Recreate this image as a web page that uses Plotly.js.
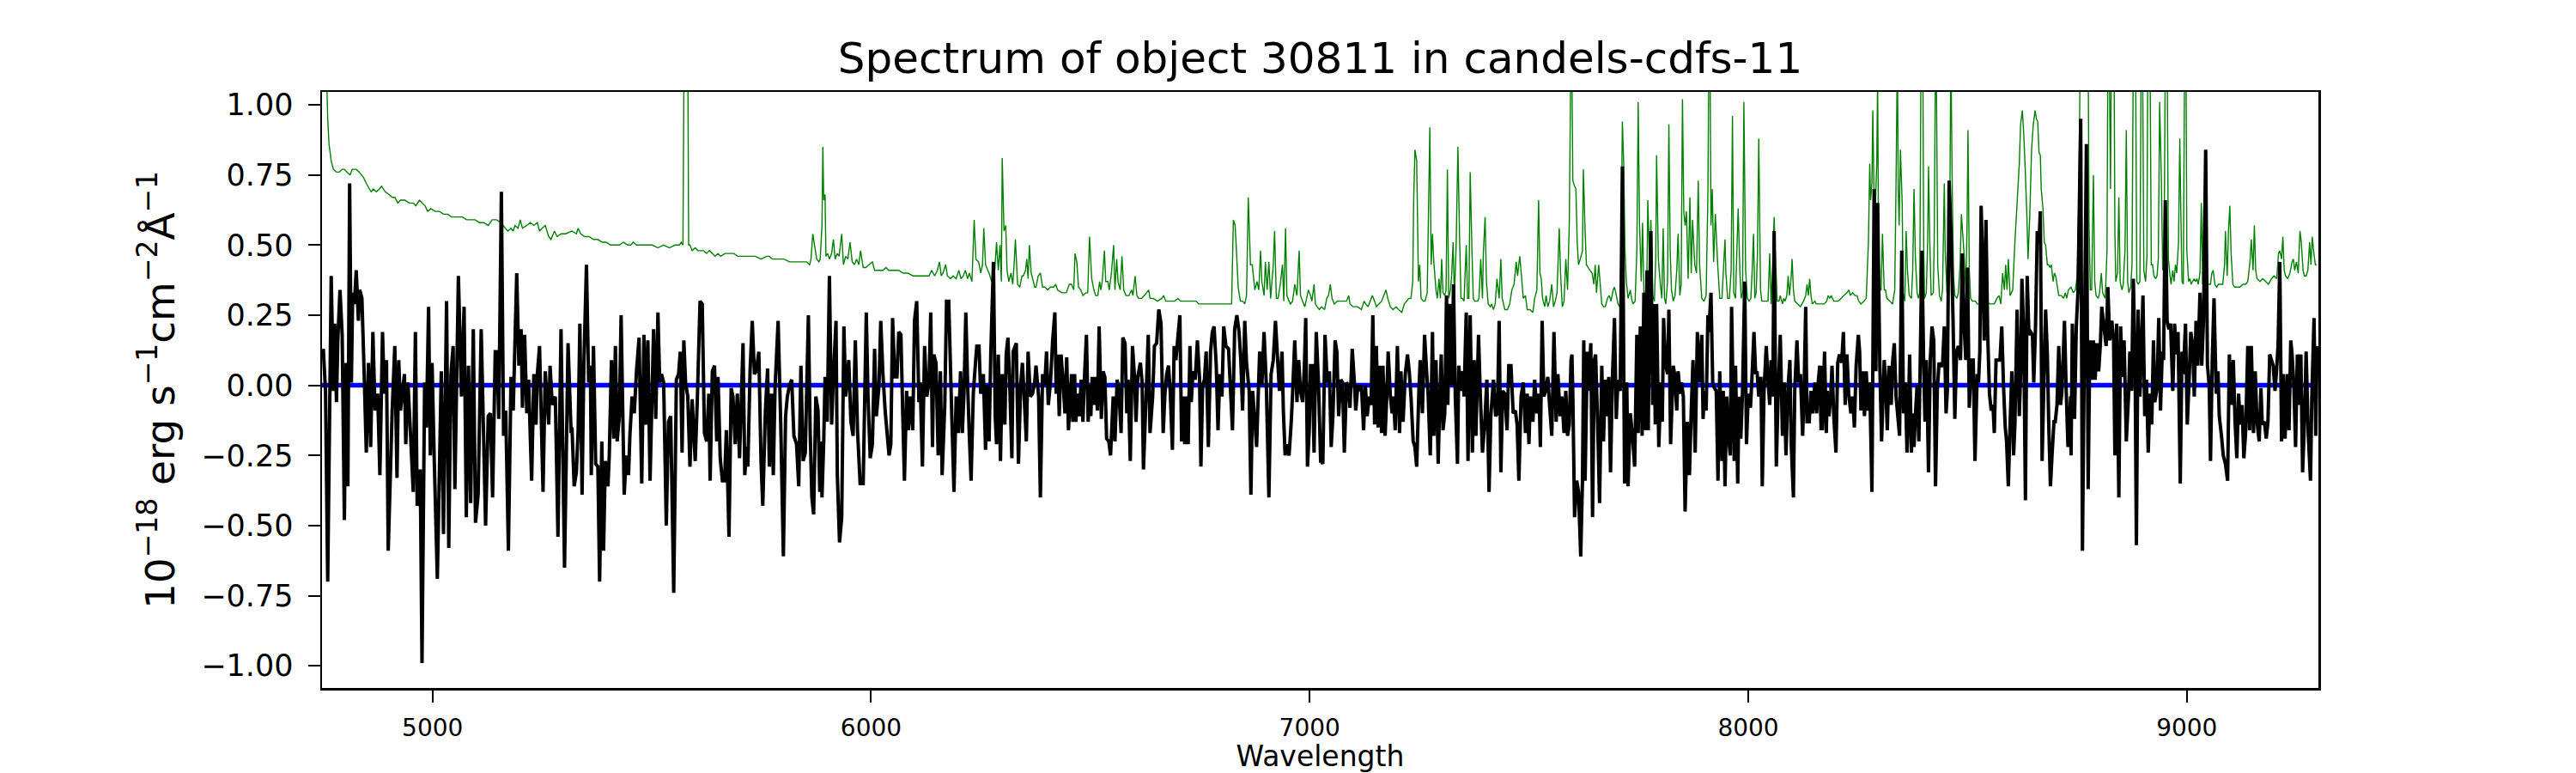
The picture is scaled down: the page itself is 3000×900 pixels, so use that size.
<!DOCTYPE html>
<html>
<head>
<meta charset="utf-8">
<script src="https://cdn.plot.ly/plotly-3.0.1.min.js"></script>
<style>html,body{margin:0;padding:0;background:#fff;}#chart{width:3000px;height:900px;}</style>
</head>
<body>
<div id="chart"></div>
<script>
// Observed spectrum (black), wavelength in Angstrom
const obsWave = [
4751,4756,4761,4769,4774,4777,4781,4784,4789,4794,4799,4803,4807,4811,4815,4818,4822,4826,4831,4834,4839,4844,4849,4854,4859,4864,4869,4875,4880,4886,4890,4895,4899,4908,4914,4919,4923,4927,4936,4939,4944,4950,4956,4961,4965,4972,4976,4982,4986,4991,4995,4999,5004,5011,5020,5025,5032,5037,5042,5047,5051,5059,5066,5072,5077,5082,5087,5093,5098,5104,5111,5121,5127,5132,5137,5143,5147,5151,5157,5162,5167,5173,5179,5184,5192,5197,5202,5205,5210,5215,5219,5226,5231,5236,5239,5244,5252,5257,5265,5268,5273,5280,5286,5293,5301,5309,5316,
5318,5323,5328,5332,5336,5341,5345,5351,5356,5360,5362,5367,5372,5377,5381,5386,5390,5394,5400,5403,5408,5413,5417,5421,5426,5430,5437,5442,5447,5450,5455,5460,5465,5471,5477,5482,5486,5491,5496,5504,5509,5514,5518,5522,5527,5533,5538,5543,5550,5556,5561,5565,5569,5573,5577,5582,5587,5592,5599,5604,5610,5615,5620,5625,5630,5633,5638,5643,5648,5651,5656,5661,5666,5670,5676,5681,5685,5690,5695,5700,5708,5712,5716,5719,5724,5729,5734,5738,5744,5749,5753,5759,5764,5768,5773,5777,5781,5788,5794,5800,5805,5809,5814,5819,5824,5830,5835,5840,5845,5850,5857,5861,5865,5869,5874,5879,5883,5887,
5888,5892,5895,5900,5905,5910,5914,5920,5923,5928,5933,5938,5942,5949,5954,5959,5964,5969,5975,5982,5989,5993,5998,6003,6008,6012,6018,6022,6027,6032,6037,6041,6045,6049,6054,6059,6063,6068,6072,6076,6081,6085,6089,6095,6099,6104,6109,6112,6117,6122,6127,6132,6136,6140,6143,6148,6153,6158,6162,6168,6172,6177,6184,6189,6194,6199,6204,6208,6212,6216,6220,6224,6228,6233,6238,6241,6246,6250,6256,6261,6264,6269,6273,6279,6283,6286,6290,6295,6299,6305,6308,6312,6316,6321,6324,6331,6336,6341,6345,6349,6354,6358,6363,6368,6373,6376,6382,6386,6391,6396,6400,6404,6409,6414,6419,6422,6425,6429,6433,6437,6442,6446,6450,6456,
6457,6460,6464,6467,6470,6475,6479,6483,6486,6491,6495,6498,6501,6504,6508,6512,6516,6520,6525,6529,6533,6537,6542,6546,6552,6556,6561,6565,6570,6574,6579,6583,6586,6591,6596,6601,6604,6608,6614,6618,6621,6627,6632,6636,6642,6646,6651,6656,6661,6666,6670,6674,6678,6682,6687,6691,6695,6700,6704,6708,6712,6715,6719,6723,6727,6730,6734,6739,6744,6749,6752,6756,6760,6764,6769,6774,6778,6782,6787,6791,6795,6800,6804,6809,6815,6819,6824,6829,6834,6839,6843,6847,6852,6856,6862,6866,6870,6875,6879,6883,6886,6891,6896,6901,6907,6912,6917,6922,6927,6931,6937,6940,6944,6948,6953,6958,6961,6966,6971,6975,6979,6984,6988,6991,6995,6999,7002,7006,7010,7015,7020,7025,
7027,7030,7035,7040,7045,7049,7053,7058,7062,7066,7071,7075,7079,7084,7088,7092,7097,7102,7105,7110,7114,7118,7123,7127,7131,7136,7140,7144,7148,7152,7156,7159,7164,7167,7172,7176,7179,7184,7188,7191,7195,7200,7205,7208,7213,7218,7223,7227,7231,7236,7240,7244,7249,7252,7257,7262,7267,7270,7275,7280,7283,7288,7293,7297,7300,7304,7308,7312,7315,7319,7324,7328,7332,7337,7340,7345,7349,7352,7357,7361,7366,7371,7375,7379,7385,7389,7394,7399,7404,7409,7413,7419,7424,7428,7432,7436,7440,7445,7450,7454,7459,7464,7469,7473,7477,7482,7487,7492,7496,7500,7503,7509,7513,7518,7523,7526,7530,7534,7538,7543,7547,7552,7557,7562,7566,7571,7575,7580,7584,7588,7592,7596,
7598,7600,7604,7609,7613,7618,7622,7625,7628,7633,7636,7641,7645,7649,7652,7657,7661,7666,7670,7674,7679,7682,7686,7690,7695,7699,7703,7708,7713,7718,7723,7726,7731,7736,7741,7746,7749,7754,7758,7762,7765,7769,7772,7775,7778,7782,7785,7788,7791,7796,7801,7804,7807,7811,7816,7819,7823,7829,7832,7837,7840,7845,7848,7852,7856,7861,7866,7870,7874,7879,7884,7889,7894,7897,7900,7904,7908,7910,7915,7919,7923,7927,7931,7935,7940,7943,7947,7951,7955,7959,7962,7968,7971,7976,7979,7983,7987,7992,7996,8000,8005,8008,8013,8017,8020,8024,8029,8032,8036,8041,8045,8049,8052,8056,8059,8064,8068,8073,8078,8082,8086,8091,8095,8098,8103,8106,8111,8115,8119,8124,8127,8131,8134,8139,8143,8147,8152,8156,8160,8163,8166,
8167,8169,8174,8178,8180,8184,8188,8191,8195,8200,8204,8208,8213,8217,8221,8225,8229,8234,8238,8242,8246,8251,8254,8257,8261,8265,8269,8273,8277,8282,8287,8291,8295,8300,8304,8310,8313,8317,8321,8326,8329,8333,8337,8341,8345,8350,8354,8358,8362,8365,8368,8372,8375,8378,8381,8385,8389,8392,8396,8400,8403,8406,8409,8411,8415,8419,8423,8427,8431,8435,8439,8443,8447,8451,8454,8458,8463,8467,8471,8475,8479,8484,8488,8492,8496,8500,8504,8509,8513,8517,8522,8525,8528,8531,8535,8538,8542,8546,8550,8554,8558,8561,8565,8569,8574,8578,8582,8586,8589,8593,8597,8601,8605,8608,8613,8618,8621,8624,8628,8632,8636,8640,8644,8648,8651,8655,8659,8663,8666,8670,8674,8678,8682,8685,8689,8693,8697,8700,8704,8708,8712,8715,8721,8725,8729,8732,8735,
8736,8739,8744,8748,8752,8758,8762,8767,8771,8775,8779,8783,8787,8791,8795,8799,8803,8806,8811,8816,8820,8824,8829,8833,8836,8840,8845,8849,8853,8857,8862,8867,8870,8874,8878,8882,8885,8889,8893,8897,8900,8904,8908,8912,8916,8920,8924,8927,8932,8936,8940,8944,8947,8951,8955,8959,8963,8968,8972,8976,8980,8985,8989,8992,8997,9001,9005,9009,9013,9017,9021,9025,9030,9034,9038,9043,9047,9051,9054,9058,9062,9067,9071,9074,9079,9083,9088,9093,9097,9101,9106,9110,9114,9118,9122,9126,9130,9134,9139,9143,9147,9152,9156,9160,9165,9169,9172,9177,9181,9185,9189,9193,9197,9201,9204,9208,9212,9216,9220,9224,9229,9233,9237,9240,9244,9248,9252,9256,9260,9264,9268,9272,9277,9282,9285,9290,9294,9297
];
// Observed flux, 1e-18 erg/s/cm2/A
const obsFlux = [
0.13,-0.02,-0.70,0.39,-0.02,0.22,-0.06,0.16,0.34,0.18,-0.48,0.08,-0.36,0.72,0.01,0.33,0.29,0.41,0.23,0.34,0.31,0.05,-0.24,0.08,-0.22,0.19,-0.09,-0.03,-0.32,0.19,-0.03,0.09,-0.59,-0.09,0.14,-0.33,0.09,-0.09,0.04,-0.21,0.01,-0.18,-0.38,0.19,-0.43,-0.30,-0.99,0.01,-0.15,0.28,-0.25,0.08,-0.27,-0.69,0.05,-0.53,0.30,-0.58,0.04,0.14,-0.37,0.39,-0.04,0.28,-0.47,0.07,-0.42,0.20,-0.49,-0.39,0.20,-0.50,-0.11,-0.10,-0.40,0.12,0.12,-0.12,0.69,-0.18,-0.09,-0.59,0.03,-0.09,0.40,0.07,0.20,-0.08,0.18,-0.10,0.02,-0.34,0.04,-0.14,0.04,0.14,-0.38,0.05,-0.14,0.07,-0.07,-0.04,-0.54,0.20,-0.65,0.15,-0.17,
-0.15,-0.36,-0.31,-0.16,0.22,-0.39,0.07,0.43,0.01,0.07,-0.32,0.14,-0.28,-0.29,-0.70,-0.20,-0.59,-0.27,-0.36,-0.25,0.09,-0.19,0.14,-0.20,-0.11,0.25,-0.39,-0.25,-0.32,-0.18,-0.04,-0.10,0.05,0.17,-0.35,0.18,-0.14,0.16,-0.34,0.20,-0.12,0.26,0.01,0.04,0.01,-0.50,-0.13,-0.11,-0.74,0.02,0.04,0.12,-0.24,0.16,0.01,-0.04,-0.29,-0.05,-0.27,-0.04,0.30,0.29,-0.17,-0.20,-0.03,-0.34,0.05,0.07,-0.20,0.03,-0.26,-0.34,-0.34,-0.16,-0.54,-0.01,-0.04,-0.21,-0.03,-0.26,0.15,-0.32,-0.22,-0.29,0.05,0.23,0.04,0.05,0.12,-0.27,-0.43,-0.09,0.06,-0.29,-0.03,-0.32,-0.01,0.23,-0.14,-0.61,-0.11,-0.04,0.00,0.02,-0.18,-0.21,-0.36,0.07,-0.27,-0.24,0.25,-0.16,-0.40,-0.46,-0.04,-0.09,-0.38,-0.20,
-0.40,-0.20,0.03,-0.13,0.39,-0.14,0.03,0.23,-0.32,-0.56,-0.47,0.21,-0.04,0.09,-0.13,-0.18,0.16,-0.16,-0.35,-0.35,0.26,-0.04,-0.26,-0.21,0.13,-0.11,0.00,0.23,0.04,-0.09,-0.18,-0.25,-0.21,0.24,0.03,0.03,0.19,0.18,-0.09,-0.34,-0.02,-0.16,-0.04,-0.16,0.23,0.30,-0.06,0.01,-0.29,0.14,-0.04,0.01,0.26,-0.22,0.11,0.08,-0.25,0.05,-0.32,-0.07,0.30,0.30,-0.11,-0.38,-0.04,-0.17,0.05,-0.17,-0.02,0.26,0.01,-0.18,-0.34,-0.03,0.08,0.14,0.14,-0.03,0.04,-0.23,0.00,-0.20,0.12,0.44,-0.11,-0.21,0.11,-0.27,0.04,-0.14,0.11,0.17,0.01,-0.26,0.12,0.15,-0.28,0.00,0.08,-0.04,-0.20,0.12,-0.04,-0.03,0.01,0.07,-0.04,-0.40,0.04,0.00,0.12,-0.07,0.01,0.16,0.26,-0.03,0.11,-0.11,0.11,0.03,-0.10,0.10,-0.16,0.01,
0.04,-0.13,0.04,-0.13,-0.03,-0.11,0.02,-0.13,0.01,0.18,-0.13,0.00,-0.11,0.03,-0.07,0.03,-0.09,0.21,-0.12,0.05,0.03,-0.19,-0.20,-0.25,-0.04,-0.20,0.02,-0.02,-0.17,0.17,0.15,-0.10,0.02,-0.27,0.14,0.02,-0.13,0.03,0.08,0.01,-0.30,-0.04,0.18,-0.17,-0.04,0.14,0.15,0.27,0.22,-0.17,-0.03,0.04,0.07,-0.02,-0.23,0.14,0.09,0.18,0.25,-0.20,-0.04,-0.21,-0.04,-0.21,0.14,-0.06,0.05,0.02,0.16,0.02,-0.29,0.00,0.02,0.12,-0.22,0.12,0.19,0.21,0.07,-0.16,0.04,-0.04,0.21,0.14,0.13,0.00,-0.16,0.20,0.25,0.19,0.09,-0.09,0.23,0.08,-0.02,-0.39,-0.02,-0.13,-0.22,-0.02,0.12,0.00,0.19,0.01,-0.40,0.04,0.09,0.23,0.09,-0.02,0.12,-0.09,-0.25,-0.21,-0.25,-0.13,-0.03,0.16,-0.06,0.09,-0.02,-0.06,0.07,0.24,-0.29,-0.16,0.07,0.07,-0.24,0.19,0.01,-0.27,
-0.27,-0.28,0.18,0.01,0.05,-0.22,-0.11,0.16,0.12,-0.11,0.02,0.01,-0.24,0.01,0.00,-0.08,0.13,0.01,-0.09,0.00,-0.02,0.00,-0.16,0.00,-0.11,-0.04,-0.07,0.25,-0.14,0.14,-0.15,0.07,-0.17,0.07,-0.18,-0.03,0.12,-0.04,-0.10,-0.04,-0.16,0.14,-0.17,0.05,-0.13,0.04,0.11,0.05,-0.04,-0.20,-0.22,-0.29,-0.02,0.09,-0.10,0.18,0.04,-0.03,-0.25,0.19,-0.18,0.09,-0.28,-0.03,0.11,-0.16,-0.10,0.32,-0.07,0.29,0.00,0.36,-0.04,-0.28,0.07,-0.02,0.05,-0.04,0.26,-0.27,0.25,-0.24,0.09,-0.18,0.18,-0.03,-0.24,-0.14,0.02,-0.38,-0.11,0.02,-0.11,-0.10,0.23,-0.31,-0.02,-0.03,-0.16,0.07,0.07,-0.10,-0.09,-0.14,-0.34,-0.04,0.01,-0.17,-0.03,-0.21,-0.04,-0.13,0.02,-0.10,-0.03,-0.22,0.23,-0.04,-0.02,0.03,-0.07,-0.18,0.19,-0.13,0.04,-0.11,-0.04,-0.17,-0.02,-0.18,-0.14,0.09,
0.11,-0.03,-0.47,-0.34,-0.38,-0.61,-0.34,0.16,-0.34,0.12,-0.02,0.15,-0.47,0.09,0.11,-0.16,-0.42,0.07,-0.20,0.02,-0.11,0.03,-0.31,0.01,0.24,-0.12,0.02,-0.02,0.78,-0.35,0.01,-0.36,-0.10,-0.18,-0.29,0.18,-0.17,0.21,-0.18,0.33,-0.16,0.41,-0.16,0.29,0.55,-0.07,0.29,-0.14,0.29,-0.22,0.01,-0.13,0.24,0.08,0.04,0.27,-0.21,0.07,0.04,-0.09,0.05,-0.03,0.01,-0.04,-0.45,-0.13,-0.32,-0.09,0.09,-0.24,0.19,0.01,0.18,-0.12,-0.02,-0.09,0.25,0.19,0.33,0.01,-0.01,-0.02,-0.34,0.05,-0.27,-0.02,-0.36,-0.04,-0.18,-0.25,0.28,-0.27,0.07,-0.35,-0.04,-0.19,-0.02,0.37,-0.21,-0.03,-0.08,0.01,0.19,0.04,0.05,-0.04,0.03,-0.36,-0.02,0.14,0.02,-0.07,0.09,-0.04,0.55,-0.29,-0.04,0.18,-0.18,0.01,-0.25,0.00,0.09,-0.21,-0.40,-0.02,0.16,0.01,0.04,-0.18,-0.04,0.28,-0.13,-0.13,-0.02,-0.10,0.01,-0.10,0.02,0.07,-0.16,
0.07,-0.16,0.12,-0.17,-0.02,-0.11,-0.04,0.07,-0.11,-0.24,0.08,0.11,0.08,0.19,-0.07,0.11,-0.03,-0.10,-0.04,-0.15,0.07,0.18,0.12,-0.09,0.05,-0.11,0.05,-0.09,0.01,-0.38,0.70,0.05,0.65,0.07,-0.20,0.09,0.02,-0.16,0.07,-0.07,0.08,0.15,-0.04,-0.11,-0.18,0.48,-0.10,0.01,-0.24,-0.11,0.11,-0.24,-0.10,-0.22,-0.11,0.00,-0.20,0.07,0.48,0.07,-0.13,0.09,-0.13,-0.31,0.09,0.21,0.16,-0.36,-0.02,0.08,0.07,0.07,0.21,-0.10,-0.02,0.73,0.51,0.23,-0.12,0.12,0.14,0.09,0.47,0.22,0.09,0.42,-0.08,0.09,0.09,-0.27,0.04,0.01,0.12,0.64,0.41,0.16,0.59,0.18,-0.03,-0.09,-0.07,-0.17,0.09,0.09,0.09,0.21,0.00,-0.15,-0.20,-0.36,-0.14,0.05,-0.25,-0.14,0.27,-0.11,0.04,0.38,0.19,-0.41,0.39,0.18,0.19,0.18,0.01,0.21,0.55,0.51,0.62,-0.27,0.00,0.27,0.11,-0.13,-0.36,-0.24,-0.13,-0.13,-0.07,0.14,-0.07,-0.03,0.23,-0.02,-0.22,-0.16,-0.04,
-0.25,0.22,-0.12,0.21,0.34,0.95,-0.59,0.23,0.86,-0.37,0.16,0.02,0.16,0.02,0.15,0.05,0.15,0.28,0.21,0.14,0.35,0.16,0.23,0.16,-0.25,0.22,-0.40,0.21,0.03,0.16,-0.20,-0.04,0.12,-0.02,0.38,0.09,-0.57,0.27,-0.04,0.15,0.32,-0.11,0.02,-0.24,-0.03,-0.14,0.16,-0.06,-0.01,0.24,-0.09,0.12,0.09,0.66,0.23,0.20,0.22,-0.02,0.22,0.11,0.19,-0.35,0.12,0.04,0.22,-0.14,0.01,0.19,0.15,-0.04,0.23,0.07,0.33,0.07,0.23,0.84,0.07,0.00,-0.27,0.09,0.31,-0.03,0.05,-0.11,-0.18,-0.25,-0.28,-0.34,0.11,-0.07,0.09,-0.13,-0.26,-0.03,-0.14,-0.07,-0.26,-0.17,0.14,-0.16,0.14,-0.17,0.05,-0.13,-0.20,-0.01,-0.14,-0.13,-0.19,-0.13,0.11,0.09,0.07,-0.02,0.04,0.14,0.44,-0.20,0.04,-0.19,0.04,-0.16,0.16,0.11,0.00,-0.22,0.11,-0.07,0.11,-0.31,-0.14,0.12,-0.18,-0.34,-0.04,0.24,-0.18,0.14
];
// Contamination model (green)
const contamWave = [
4752,4757,4761,4764,4769,4774,4781,4787,4794,4799,4805,4812,4817,4821,4826,4833,4843,4849,4856,4860,4865,4872,4879,4884,4892,4901,4908,4914,4921,4927,4937,4947,4956,4962,4970,4976,4983,4989,4996,5006,5016,5025,5035,5043,5048,5058,5068,5078,5087,5097,5107,5117,5127,5136,5146,5156,5166,5172,5179,5184,5188,5195,5200,5205,5215,5223,5231,5239,5244,5250,5257,5265,5270,5278,5284,5293,5303,
5318,5328,5332,5338,5347,5357,5367,5377,5387,5396,5406,5416,5426,5435,5445,5452,5458,5465,5475,5488,5501,5514,5527,5540,5553,5563,5567,5571,5575,5578,5581,5584,5587,5592,5599,5605,5612,5618,5625,5631,5638,5644,5651,5657,5667,5677,5687,5696,5710,5723,5736,5749,5762,5768,5775,5788,5801,5814,5827,5840,5853,5860,5863,5867,5871,5876,5881,5884,5888,
5890,5892,5895,5897,5901,5905,5910,5914,5918,5923,5927,5933,5937,5942,5947,5952,5957,5962,5967,5972,5976,5982,5988,5995,6003,6008,6018,6027,6034,6040,6050,6063,6073,6083,6096,6106,6115,6132,6138,6145,6151,6156,6160,6164,6170,6174,6181,6187,6194,6200,6205,6210,6215,6220,6224,6230,6235,6239,6245,6250,6254,6257,6261,6266,6269,6275,6282,6286,6290,6294,6297,6299,6303,6307,6310,6314,6319,6323,6326,6329,6334,6339,6344,6347,6352,6355,6358,6361,6365,6370,6373,6376,6381,6386,6391,6396,6403,6409,6416,6421,6425,6435,6445,6452,6457,
6462,6465,6469,6473,6478,6483,6490,6494,6498,6503,6508,6512,6517,6521,6524,6527,6532,6535,6540,6543,6548,6553,6556,6560,6563,6568,6572,6576,6581,6588,6594,6597,6602,6606,6610,6617,6623,6628,6633,6636,6643,6653,6663,6667,6672,6682,6692,6700,6705,6715,6721,6728,6734,6741,6747,6757,6767,6777,6787,6796,6806,6819,6822,6826,6830,6834,6837,6842,6847,6852,6856,6860,6865,6869,6875,6880,6884,6888,6891,6896,6899,6903,6907,6911,6914,6917,6920,6924,6928,6933,6938,6941,6945,6948,6953,6956,6961,6966,6971,6976,6979,6984,6989,6993,6997,7002,7005,7010,7013,7017,7022,
7027,7034,7039,7043,7047,7051,7056,7063,7069,7074,7079,7084,7089,7092,7099,7109,7118,7124,7128,7133,7138,7143,7148,7152,7158,7164,7169,7174,7178,7184,7190,7197,7203,7210,7216,7221,7226,7231,7235,7237,7240,7244,7248,7251,7254,7259,7263,7268,7274,7277,7280,7283,7288,7291,7295,7298,7301,7304,7308,7311,7314,7317,7321,7324,7327,7330,7334,7338,7342,7345,7348,7352,7357,7360,7363,7366,7370,7373,7376,7383,7386,7390,7394,7396,7400,7403,7407,7412,7415,7419,7423,7427,7432,7436,7439,7445,7451,7456,7461,7466,7471,7474,7479,7483,7487,7492,7496,7502,7509,7513,7518,7522,7525,7528,7531,7536,7539,7543,7547,7552,7556,7560,7564,7569,7572,7576,7580,7584,7588,7592,7595,
7598,7600,7604,7607,7610,7613,7617,7622,7624,7628,7631,7635,7639,7644,7648,7651,7654,7659,7662,7666,7670,7674,7679,7683,7687,7692,7695,7698,7703,7707,7709,7713,7716,7719,7722,7726,7731,7734,7737,7742,7746,7749,7752,7756,7759,7762,7765,7769,7771,7775,7778,7782,7786,7789,7791,7795,7799,7803,7806,7809,7812,7816,7819,7822,7825,7829,7833,7837,7840,7844,7847,7850,7853,7856,7859,7863,7867,7870,7873,7878,7882,7886,7889,7894,7899,7904,7908,7910,7913,7915,7918,7921,7925,7930,7935,7940,7944,7947,7949,7953,7957,7961,7964,7967,7971,7974,7977,7981,7984,7987,7990,7994,7998,8002,8006,8009,8012,8015,8018,8021,8024,8028,8031,8036,8041,8045,8049,8052,8056,8059,8062,8066,8070,8073,8078,8081,8084,8088,8091,8094,8098,8100,8103,8106,8113,8119,8126,8131,8134,8137,8140,8143,8146,8152,8155,8158,8166,
8173,8179,8182,8186,8189,8192,8195,8199,8205,8212,8218,8225,8229,8233,8238,8243,8248,8252,8257,8264,8269,8274,8277,8279,8282,8284,8287,8290,8293,8295,8297,8300,8303,8306,8310,8313,8316,8323,8329,8334,8337,8340,8342,8344,8347,8351,8353,8357,8360,8363,8367,8372,8375,8378,8381,8385,8388,8391,8394,8398,8400,8402,8406,8409,8411,8414,8417,8422,8424,8427,8429,8432,8436,8440,8443,8447,8449,8453,8458,8460,8462,8465,8468,8471,8476,8479,8483,8486,8489,8492,8496,8499,8501,8504,8507,8511,8514,8518,8522,8528,8535,8541,8551,8561,8567,8572,8576,8580,8584,8587,8590,8593,8597,8603,8608,8613,8618,8621,8625,8628,8631,8635,8638,8642,8646,8650,8654,8657,8660,8663,8666,8668,8672,8675,8678,8682,8685,8688,8691,8695,8698,8701,8704,8708,8714,8719,8723,8726,8730,
8736,8741,8746,8750,8754,8757,8760,8763,8770,8775,8777,8780,8783,8787,8790,8793,8798,8801,8805,8808,8811,8814,8818,8820,8823,8826,8828,8834,8836,8838,8842,8845,8848,8852,8855,8859,8862,8865,8868,8872,8875,8878,8883,8886,8889,8893,8896,8899,8902,8906,8909,8911,8916,8919,8922,8925,8929,8932,8935,8938,8942,8945,8948,8951,8955,8958,8961,8964,8968,8971,8974,8977,8981,8984,8986,8989,8992,8995,8998,9000,9004,9007,9010,9013,9017,9020,9023,9026,9030,9033,9036,9039,9043,9046,9049,9054,9057,9060,9064,9068,9072,9077,9082,9086,9088,9092,9095,9098,9101,9105,9109,9114,9121,9128,9134,9139,9144,9147,9151,9154,9157,9160,9167,9173,9180,9186,9193,9199,9205,9209,9212,9216,9219,9222,9225,9230,9235,9240,9243,9246,9250,9254,9258,9261,9265,9268,9272,9276,9280,9283,9286,9289,9293,9296
];
const contamFlux = [
1.40,1.20,0.95,0.86,0.80,0.77,0.76,0.76,0.77,0.77,0.76,0.75,0.77,0.77,0.77,0.76,0.74,0.72,0.70,0.69,0.70,0.69,0.70,0.71,0.69,0.68,0.67,0.67,0.65,0.66,0.66,0.65,0.65,0.64,0.66,0.65,0.64,0.62,0.63,0.62,0.62,0.61,0.61,0.60,0.60,0.60,0.60,0.59,0.59,0.59,0.58,0.58,0.57,0.59,0.59,0.58,0.56,0.55,0.56,0.55,0.57,0.56,0.59,0.56,0.57,0.58,0.57,0.58,0.55,0.56,0.57,0.53,0.52,0.55,0.53,0.54,0.54,
0.55,0.54,0.56,0.54,0.53,0.53,0.52,0.52,0.51,0.51,0.50,0.50,0.50,0.51,0.50,0.50,0.51,0.50,0.50,0.50,0.50,0.49,0.50,0.49,0.50,0.50,0.51,0.50,1.60,1.10,1.60,0.50,0.50,0.48,0.49,0.48,0.48,0.48,0.47,0.48,0.47,0.46,0.47,0.46,0.47,0.47,0.47,0.46,0.46,0.46,0.46,0.45,0.46,0.46,0.45,0.45,0.45,0.44,0.44,0.44,0.44,0.43,0.45,0.54,0.50,0.45,0.44,0.45,0.57,
0.85,0.66,0.68,0.46,0.47,0.45,0.47,0.52,0.45,0.47,0.46,0.54,0.43,0.46,0.45,0.51,0.44,0.43,0.45,0.43,0.48,0.42,0.42,0.43,0.44,0.41,0.41,0.41,0.42,0.41,0.41,0.41,0.40,0.40,0.39,0.39,0.39,0.39,0.41,0.39,0.41,0.44,0.39,0.40,0.43,0.39,0.38,0.39,0.38,0.41,0.38,0.39,0.41,0.38,0.40,0.37,0.59,0.45,0.44,0.40,0.43,0.56,0.43,0.41,0.40,0.37,0.41,0.51,0.41,0.50,0.37,0.81,0.55,0.57,0.41,0.37,0.40,0.36,0.43,0.52,0.36,0.35,0.39,0.39,0.41,0.45,0.38,0.50,0.40,0.37,0.35,0.35,0.39,0.40,0.35,0.35,0.34,0.35,0.35,0.36,0.34,0.33,0.33,0.36,0.36,
0.34,0.47,0.44,0.35,0.34,0.32,0.33,0.33,0.53,0.38,0.34,0.32,0.32,0.37,0.34,0.37,0.48,0.37,0.37,0.34,0.40,0.50,0.34,0.45,0.37,0.34,0.46,0.34,0.32,0.32,0.34,0.32,0.39,0.32,0.31,0.31,0.32,0.33,0.34,0.31,0.31,0.30,0.31,0.32,0.30,0.30,0.30,0.31,0.30,0.30,0.30,0.30,0.30,0.30,0.29,0.29,0.29,0.29,0.29,0.29,0.29,0.29,0.29,0.59,0.57,0.45,0.35,0.30,0.30,0.29,0.32,0.67,0.43,0.43,0.34,0.37,0.34,0.48,0.37,0.32,0.44,0.34,0.44,0.31,0.37,0.43,0.55,0.31,0.31,0.36,0.43,0.30,0.56,0.32,0.30,0.29,0.30,0.36,0.32,0.48,0.32,0.30,0.28,0.31,0.34,0.32,0.30,0.36,0.29,0.28,0.27,
0.28,0.27,0.31,0.32,0.36,0.31,0.29,0.30,0.30,0.30,0.30,0.30,0.32,0.29,0.28,0.28,0.27,0.30,0.29,0.28,0.30,0.32,0.30,0.28,0.29,0.30,0.32,0.34,0.31,0.28,0.27,0.28,0.27,0.26,0.29,0.30,0.31,0.31,0.37,0.65,0.84,0.80,0.37,0.43,0.31,0.30,0.30,0.33,0.92,0.43,0.54,0.44,0.34,0.31,0.38,0.31,0.45,0.33,0.32,0.34,0.77,0.31,0.34,0.40,0.51,0.31,0.50,0.85,0.51,0.31,0.31,0.30,0.50,0.31,0.31,0.76,0.48,0.31,0.30,0.30,0.31,0.45,0.31,0.47,0.60,0.37,0.29,0.28,0.29,0.27,0.29,0.38,0.31,0.45,0.31,0.27,0.27,0.29,0.34,0.36,0.44,0.39,0.46,0.39,0.31,0.32,0.27,0.27,0.26,0.31,0.34,0.66,0.40,0.38,0.31,0.28,0.32,0.28,0.30,0.36,0.28,0.30,0.33,0.56,0.40,0.28,0.30,0.45,0.34,0.58,1.10,
1.10,0.73,0.71,0.70,0.51,0.43,0.45,0.48,0.77,0.55,0.43,0.42,0.41,0.40,0.36,0.43,0.33,0.43,0.37,0.29,0.28,0.28,0.31,0.32,0.30,0.34,0.35,0.33,0.29,0.28,0.37,0.94,0.79,0.48,0.37,0.31,0.34,0.31,0.29,0.30,0.48,1.01,0.58,0.37,0.58,0.34,0.29,0.40,0.66,0.43,0.59,0.32,0.30,0.45,0.82,0.45,0.37,0.31,0.56,0.31,0.29,0.37,0.93,0.48,0.34,0.30,0.32,0.41,0.54,0.32,0.36,1.02,0.62,0.57,0.62,0.38,0.67,0.40,0.59,0.43,0.40,0.73,0.43,0.31,0.30,0.32,0.68,1.15,1.10,0.57,0.70,0.44,0.61,0.44,0.31,0.31,0.43,0.52,0.40,0.31,0.31,0.41,0.96,0.33,0.31,0.48,0.63,0.40,0.31,0.33,1.01,0.41,0.31,0.30,0.31,0.41,0.54,0.31,0.33,0.47,0.88,0.34,0.30,0.30,0.30,0.30,0.47,0.29,0.43,0.60,0.46,0.30,0.30,0.32,0.29,0.31,0.30,0.32,0.39,0.32,0.39,0.45,0.34,0.30,0.29,0.28,0.30,0.32,0.36,0.32,0.38,0.32,0.29,0.30,0.29,0.29,0.29,
0.29,0.30,0.32,0.31,0.32,0.31,0.30,0.30,0.30,0.31,0.32,0.33,0.34,0.32,0.33,0.32,0.32,0.30,0.29,0.30,0.31,0.51,0.79,0.66,0.72,0.98,0.65,0.65,0.79,1.10,0.51,0.34,0.34,0.54,0.34,0.34,0.31,0.30,0.29,0.34,0.72,1.20,0.70,0.57,0.84,0.65,0.33,0.30,0.55,0.41,0.32,0.31,0.41,0.70,0.46,0.33,0.31,0.33,1.20,1.20,0.50,0.31,0.33,0.51,0.78,0.51,0.32,0.33,0.52,1.20,1.10,0.43,0.32,0.30,0.34,0.72,0.48,0.33,0.52,0.73,1.20,0.72,0.39,0.32,0.31,0.33,0.43,0.61,0.54,0.47,0.34,0.58,0.91,0.41,0.31,0.30,0.30,0.30,0.29,0.29,0.29,0.30,0.29,0.29,0.31,0.32,0.29,0.40,0.34,0.43,0.34,0.45,0.32,0.34,0.51,0.65,0.79,0.93,0.98,0.90,0.79,0.62,0.45,0.61,0.84,0.93,0.98,0.95,0.94,0.83,0.82,0.70,0.63,0.51,0.50,0.43,0.43,0.42,0.43,0.37,0.40,0.39,0.36,0.32,0.32,0.31,0.33,0.31,0.34,
0.35,0.33,0.34,0.39,0.68,1.20,1.05,1.20,1.20,1.20,0.58,0.34,0.34,0.75,0.37,0.32,0.31,0.33,0.40,0.33,0.32,0.31,0.48,1.20,1.20,0.70,1.20,1.20,0.54,0.37,0.40,0.67,0.37,0.34,0.36,0.48,0.91,0.37,0.33,0.35,0.43,1.20,1.20,0.37,0.36,0.37,1.20,1.20,0.41,0.37,0.46,1.20,1.20,0.43,0.43,0.39,0.38,0.39,0.45,1.01,0.73,0.41,0.43,1.20,1.20,0.45,0.40,0.36,0.41,0.37,0.43,0.40,0.51,0.88,0.65,0.37,0.36,1.20,1.20,0.48,0.37,0.38,0.36,0.37,0.38,0.37,0.38,0.36,0.40,0.65,0.36,0.64,0.36,0.37,0.36,0.36,0.40,0.41,0.36,0.35,0.36,0.36,0.36,0.43,0.55,0.39,0.55,0.64,0.47,0.36,0.35,0.35,0.35,0.36,0.36,0.37,0.44,0.52,0.41,0.57,0.41,0.38,0.37,0.38,0.37,0.36,0.38,0.39,0.38,0.47,0.48,0.45,0.53,0.41,0.39,0.38,0.40,0.44,0.45,0.41,0.44,0.40,0.55,0.51,0.41,0.39,0.39,0.41,0.51,0.43,0.53,0.48,0.43,0.43
];
// Zero level (blue)
const zeroWave = [4748, 9288];
const zeroFlux = [0, 0];
// Axis ticks
const xTicks = [5000, 6000, 7000, 8000, 9000];
const yTicks = [-1.00, -0.75, -0.50, -0.25, 0.00, 0.25, 0.50, 0.75, 1.00];
const titleText = 'Spectrum of object 30811 in candels-cdfs-11';
const xLabel = 'Wavelength';
const yLabel = '10<sup>\u221218</sup> erg s<sup>\u22121</sup>cm<sup>\u22122</sup>\u00c5<sup>\u22121</sup>';

const FONT = 'DejaVu Sans, Verdana, sans-serif';
const traces = [
  {x: contamWave, y: contamFlux, type: 'scatter', mode: 'lines',
   line: {color: '#008000', width: 1.4, simplify: false}, hoverinfo: 'skip'},
  {x: zeroWave, y: zeroFlux, type: 'scatter', mode: 'lines',
   line: {color: '#0000ff', width: 5.5, simplify: false}, hoverinfo: 'skip'},
  {x: obsWave, y: obsFlux, type: 'scatter', mode: 'lines',
   line: {color: '#000000', width: 4, simplify: false}, hoverinfo: 'skip'}
];
const axisCommon = {
  showline: true, mirror: true, linecolor: '#000', linewidth: 2.5,
  ticks: 'outside', ticklen: 14, tickwidth: 2, tickcolor: '#000',
  showgrid: false, zeroline: false, automargin: false
};
const layout = {
  width: 3000, height: 900,
  margin: {l: 375, r: 300, t: 107, b: 99, pad: 0},
  paper_bgcolor: '#fff', plot_bgcolor: '#fff',
  showlegend: false,
  font: {family: FONT, color: '#000'},
  title: {text: titleText, font: {family: FONT, size: 50, color: '#000'},
          xref: 'paper', x: 0.5, xanchor: 'center',
          yref: 'container', y: 1 - 67 / 900, yanchor: 'middle'},
  xaxis: Object.assign({}, axisCommon, {
    range: [4748, 9300], tickvals: xTicks, ticktext: xTicks.map(String),
    tickfont: {family: FONT, size: 28, color: '#000'},
    ticklabelstandoff: 6,
    title: {text: xLabel, font: {family: FONT, size: 33, color: '#000'}, standoff: 3}
  }),
  yaxis: Object.assign({}, axisCommon, {
    range: [-1.079, 1.046], tickvals: yTicks, tickformat: '.2f',
    tickfont: {family: FONT, size: 35, color: '#000'},
    ticklabelstandoff: 10,
    title: {text: yLabel, font: {family: FONT, size: 47, color: '#000'}, standoff: 16}
  })
};
Plotly.newPlot('chart', traces, layout, {displayModeBar: false, staticPlot: true});
</script>
</body>
</html>
